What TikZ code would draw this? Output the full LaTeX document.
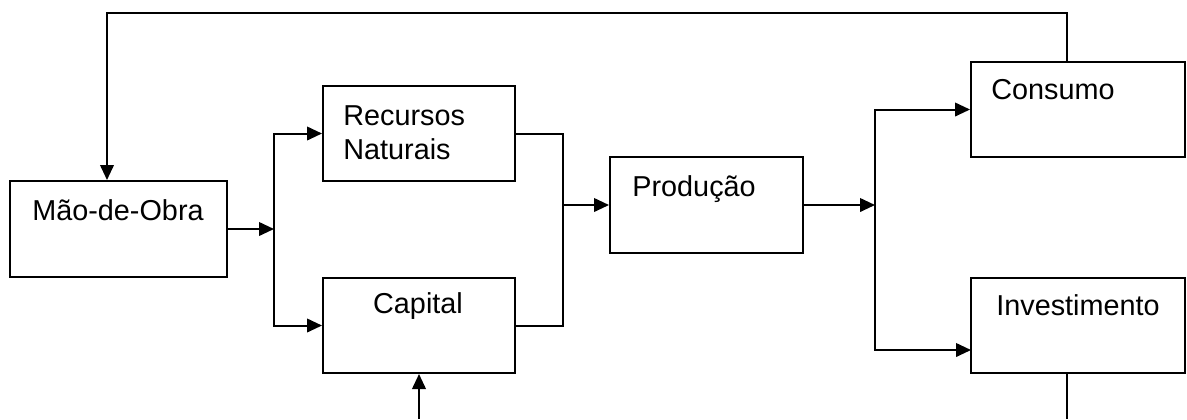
\documentclass[tikz,border=0pt]{standalone}
\usepackage{fontspec}
\setmainfont{Liberation Sans}
\usetikzlibrary{arrows.meta}

\tikzset{
  caixa/.style={draw, line width=1pt, inner sep=0pt},
  rotulo/.style={inner sep=0pt, font=\fontsize{14.4}{17}\selectfont},
  seta/.style={line width=1pt, -{Triangle[length=7.5pt,width=6.8pt]}},
  linha/.style={line width=1pt},
}

\begin{document}
\begin{tikzpicture}[x=0.5pt,y=-0.5pt]
  \useasboundingbox (0,0) rectangle (1187,419);

  % caixas
  \node[caixa, minimum width=108.5pt, minimum height=48pt] (mao) at (118.5,229) {};
  \node[caixa, minimum width=96pt, minimum height=47.5pt] (recursos) at (419,133.5) {};
  \node[caixa, minimum width=96pt, minimum height=47.5pt] (capital) at (419,325.5) {};
  \node[caixa, minimum width=96.5pt, minimum height=48pt] (producao) at (706.5,205) {};
  \node[caixa, minimum width=107pt, minimum height=47.5pt] (consumo) at (1078,109.5) {};
  \node[caixa, minimum width=107pt, minimum height=47.5pt] (investimento) at (1078,325.5) {};

  % textos
  \node[rotulo, anchor=base] (tmao) at (118,220) {Mão-de-Obra};
  \node[rotulo, anchor=north west, align=left] (trecursos) at (343,105) {Recursos\\Naturais};
  \node[rotulo, anchor=base] (tcapital) at (418,313) {Capital};
  \node[rotulo, anchor=base west] (tproducao) at (632,196) {Produção};
  \node[rotulo, anchor=base west] (tconsumo) at (991,99) {Consumo};
  \node[rotulo, anchor=base] (tinvestimento) at (1078,315) {Investimento};

  % pontos de ligacao
  \coordinate (ja) at (274,229);
  \coordinate (jb) at (563,205);
  \coordinate (jc) at (875,205);
  \coordinate (ientrada) at (971,350);
  \coordinate (topo1) at (1067,13);
  \coordinate (topo2) at (107,13);
  \coordinate (baixo1) at (1067,419);
  \coordinate (baixo2) at (419,419);

  % ligacoes
  \draw[seta] (mao.east |- ja) -- (ja);
  \draw[seta] (ja) |- (recursos.west);
  \draw[seta] (ja) |- (capital.west);

  \draw[linha] (recursos.east) -| (jb) |- (capital.east);
  \draw[seta] (jb) -- (producao.west);

  \draw[seta] (producao.east) -- (jc);
  \draw[seta] (jc) |- (consumo.west);
  \draw[seta] (jc) |- (ientrada);

  \draw[seta] (consumo.north -| topo1) -- (topo1) -- (topo2) -- (mao.north -| topo2);
  \draw[linha] (investimento.south -| baixo1) -- (baixo1);
  \draw[seta] (baixo2) -- (capital.south);
\end{tikzpicture}
\end{document}
